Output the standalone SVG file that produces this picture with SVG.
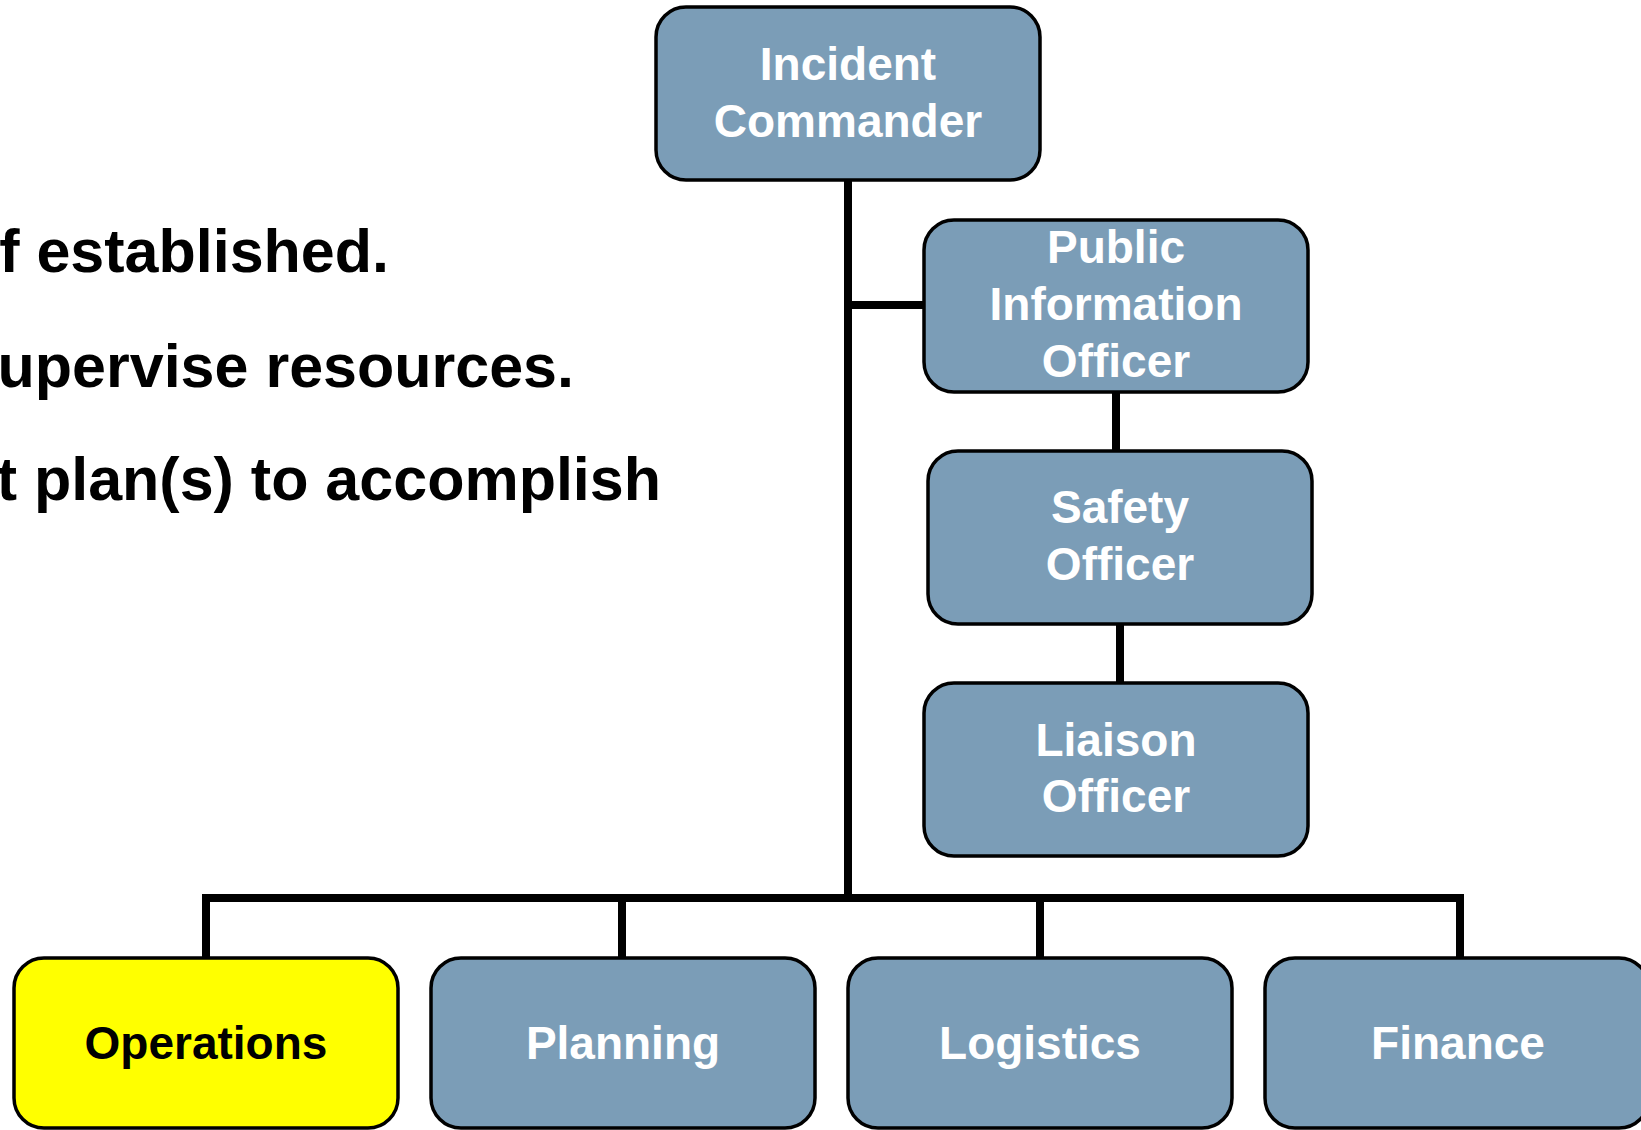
<svg xmlns="http://www.w3.org/2000/svg" width="1641" height="1130" viewBox="0 0 1641 1130">
<style>
.box{fill:#7B9DB7;stroke:#000;stroke-width:3.5}
.ops{fill:#FFFF00;stroke:#000;stroke-width:3.5}
.lbl{font-family:"Liberation Sans",Arial,sans-serif;font-weight:bold;font-size:46px;fill:#fff;text-anchor:middle}
.dark{fill:#000}
.body{font-family:"Liberation Sans",Arial,sans-serif;font-weight:bold;font-size:61px;fill:#000;text-anchor:end}
.con{stroke:#000;stroke-width:8;fill:none;stroke-linecap:butt}
</style>
<rect width="1641" height="1130" fill="#fff"/>
<g id="bodytext">
<text class="body" x="389" y="272">f established.</text>
<text class="body" x="574" y="387">upervise resources.</text>
<text class="body" x="661" y="500">t plan(s) to accomplish</text>
</g>
<g id="connectors">
<line class="con" x1="848" y1="180" x2="848" y2="902"/>
<line class="con" x1="852" y1="305" x2="924" y2="305"/>
<line class="con" x1="1116" y1="392" x2="1116" y2="451"/>
<line class="con" x1="1120" y1="624" x2="1120" y2="683"/>
<line class="con" x1="206" y1="898" x2="1462" y2="898"/>
<line class="con" x1="206" y1="894" x2="206" y2="958"/>
<line class="con" x1="622" y1="898" x2="622" y2="958"/>
<line class="con" x1="1040" y1="898" x2="1040" y2="958"/>
<line class="con" x1="1460" y1="894" x2="1460" y2="958"/>
</g>
<g id="incident-commander">
<rect class="box" x="656" y="7" width="384" height="173" rx="30"/>
<text class="lbl" x="848" y="80">Incident</text>
<text class="lbl" x="848" y="137">Commander</text>
</g>
<g id="public-information-officer">
<rect class="box" x="924" y="220" width="384" height="172" rx="30"/>
<text class="lbl" x="1116" y="263">Public</text>
<text class="lbl" x="1116" y="320">Information</text>
<text class="lbl" x="1116" y="377">Officer</text>
</g>
<g id="safety-officer">
<rect class="box" x="928" y="451" width="384" height="173" rx="30"/>
<text class="lbl" x="1120" y="523">Safety</text>
<text class="lbl" x="1120" y="580">Officer</text>
</g>
<g id="liaison-officer">
<rect class="box" x="924" y="683" width="384" height="173" rx="30"/>
<text class="lbl" x="1116" y="756">Liaison</text>
<text class="lbl" x="1116" y="812">Officer</text>
</g>
<g id="operations">
<rect class="ops" x="14" y="958" width="384" height="170" rx="30"/>
<text class="lbl dark" x="206" y="1059">Operations</text>
</g>
<g id="planning">
<rect class="box" x="431" y="958" width="384" height="170" rx="30"/>
<text class="lbl" x="623" y="1059">Planning</text>
</g>
<g id="logistics">
<rect class="box" x="848" y="958" width="384" height="170" rx="30"/>
<text class="lbl" x="1040" y="1059">Logistics</text>
</g>
<g id="finance">
<rect class="box" x="1265" y="958" width="384" height="170" rx="30"/>
<text class="lbl" x="1458" y="1059">Finance</text>
</g>
</svg>
